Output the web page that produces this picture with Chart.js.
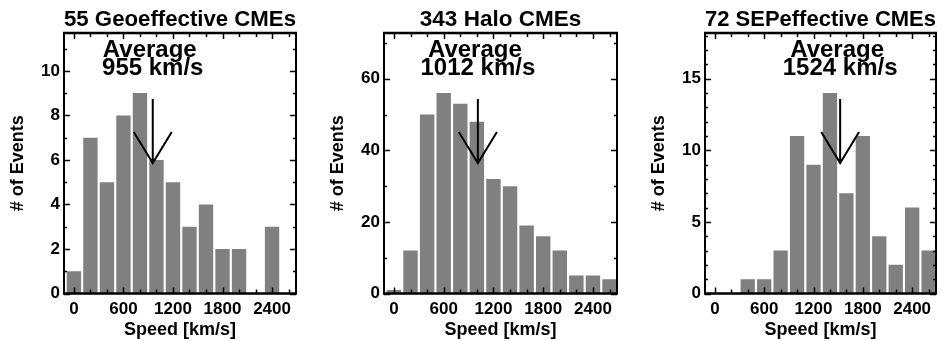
<!DOCTYPE html>
<html><head><meta charset="utf-8">
<script src="https://cdn.jsdelivr.net/npm/chart.js@4.4.1/dist/chart.umd.min.js"></script>
<style>
html,body{margin:0;padding:0;background:#fff;}
#wrap{position:relative;width:943px;height:341px;overflow:hidden;background:#fff;}
canvas{position:absolute;top:0;}
</style></head><body>
<div id="wrap">
<canvas id="c0" width="320" height="341" style="left:0px"></canvas>
<canvas id="c1" width="321" height="341" style="left:320px"></canvas>
<canvas id="c2" width="302" height="341" style="left:641px"></canvas>
</div>
<script>
// ---- data ----
const speedBins   = [0, 200, 400, 600, 800, 1000, 1200, 1400, 1600, 1800, 2000, 2200, 2400, 2600];
const geoCounts   = [1, 7, 5, 8, 9, 6, 5, 3, 4, 2, 2, 0, 3, 0];
const haloCounts  = [1, 12, 50, 56, 53, 48, 32, 30, 19, 16, 12, 5, 5, 4];
const sepCounts   = [0, 0, 1, 1, 3, 11, 9, 14, 7, 11, 4, 2, 6, 3];
const panelTitles = ['55 Geoeffective CMEs', '343 Halo CMEs', '72 SEPeffective CMEs'];
const averageSpeeds = [955, 1012, 1524];
const xTickLabels = [0, 600, 1200, 1800, 2400];
const yMaxes      = [11.7, 72.8, 18.2];
const yMajorSteps = [2, 20, 5];
const yMinorSteps = [1, 10, 1];
const xMinorStep  = 200;
const xMin = -120, xMax = 2690;
const countSeries = [geoCounts, haloCounts, sepCounts];

// ---- layout/style ----
const FONT = "'Liberation Sans', Arial, Helvetica, sans-serif";
const rightPads = [24, 24, 7];

function framePlugin(i) {
  return {
    id: 'frame' + i,
    afterDatasetsDraw(chart) {
      const ctx = chart.ctx;
      const xs = chart.scales.x, ys = chart.scales.y;
      const yMax = yMaxes[i];
      const avg = averageSpeeds[i];
      ctx.save();
      ctx.fillStyle = '#000';
      ctx.font = 'bold 24px ' + FONT;
      ctx.textAlign = 'center';
      ctx.textBaseline = 'alphabetic';
      const ax = xs.getPixelForValue(avg);
      ctx.fillText('Average', ax - 3, ys.getPixelForValue(0.909 * yMax));
      ctx.fillText(avg + ' km/s', ax, ys.getPixelForValue(0.839 * yMax));
      ctx.strokeStyle = '#000';
      ctx.lineWidth = 2;
      ctx.lineCap = 'butt';
      const yTop = ys.getPixelForValue(0.747 * yMax);
      const yTip = ys.getPixelForValue(0.501 * yMax);
      const yArm = ys.getPixelForValue(0.62 * yMax);
      const xl = xs.getPixelForValue(avg - 230), xr = xs.getPixelForValue(avg + 230);
      ctx.beginPath();
      ctx.moveTo(ax, yTop); ctx.lineTo(ax, yTip);
      ctx.moveTo(xl, yArm); ctx.lineTo(ax, yTip); ctx.lineTo(xr, yArm);
      ctx.stroke();
      ctx.restore();
    },
    afterDraw(chart) {
      const ctx = chart.ctx;
      const {left, right, top, bottom} = chart.chartArea;
      const xs = chart.scales.x, ys = chart.scales.y;
      ctx.save();
      ctx.strokeStyle = '#000';
      ctx.lineWidth = 1.5;
      ctx.beginPath();
      for (let v = 0; v <= xMax; v += xMinorStep) {
        const px = Math.round(xs.getPixelForValue(v)) + 0.5;
        const len = (v % 600 === 0) ? 6 : 4;
        ctx.moveTo(px, bottom); ctx.lineTo(px, bottom - len);
        ctx.moveTo(px, top); ctx.lineTo(px, top + len);
      }
      const nMinor = Math.floor(yMaxes[i] / yMinorSteps[i] + 1e-9);
      for (let k = 0; k <= nMinor; k++) {
        const v = k * yMinorSteps[i];
        const py = Math.round(ys.getPixelForValue(v)) + 0.5;
        const major = Math.abs(v / yMajorSteps[i] - Math.round(v / yMajorSteps[i])) < 1e-9;
        const len = major ? 6 : 3;
        ctx.moveTo(left, py); ctx.lineTo(left + len, py);
        ctx.moveTo(right, py); ctx.lineTo(right - len, py);
      }
      ctx.stroke();
      ctx.lineWidth = 2;
      ctx.beginPath();
      ctx.moveTo(left, top); ctx.lineTo(left, bottom);
      ctx.moveTo(right, top); ctx.lineTo(right, bottom);
      ctx.stroke();
      ctx.lineWidth = 2.5;
      ctx.beginPath();
      ctx.moveTo(left - 1, top); ctx.lineTo(right + 1, top);
      ctx.moveTo(left - 1, bottom); ctx.lineTo(right + 1, bottom);
      ctx.stroke();
      ctx.restore();
    }
  };
}

function makeChart(i) {
  const el = document.getElementById('c' + i);
  const pts = countSeries[i].map((c, k) => ({x: speedBins[k], y: c}));
  const yTicks = [];
  for (let v = 0; v <= yMaxes[i] + 1e-9; v += yMajorSteps[i]) yTicks.push(v);
  new Chart(el, {
    type: 'bar',
    data: {datasets: [{data: pts, backgroundColor: '#808080', borderWidth: 0,
      barPercentage: 0.87, categoryPercentage: 1.0}]},
    options: {
      responsive: false, animation: false, devicePixelRatio: 1,
      layout: {padding: {left: 0, right: rightPads[i], top: 0, bottom: 0}},
      plugins: {
        legend: {display: false}, tooltip: {enabled: false},
        title: {display: true, text: panelTitles[i], fullSize: false, color: '#000',
          font: {family: FONT, size: 22.5, weight: 'bold', lineHeight: 1.2},
          padding: {top: 6, bottom: 0}}
      },
      scales: {
        x: {
          type: 'linear', min: xMin, max: xMax, offset: false,
          grid: {display: false, drawTicks: false, tickLength: 0, offset: false}, border: {display: false},
          afterFit(s) { s.height = 47.5; },
          afterBuildTicks(s) { s.ticks = xTickLabels.map(v => ({value: v})); },
          ticks: {color: '#000', padding: 6, maxRotation: 0, autoSkip: false,
            font: {family: FONT, size: 17, weight: 'bold', lineHeight: 1.2},
            callback: v => String(v)},
          title: {display: true, text: 'Speed [km/s]', color: '#000',
            font: {family: FONT, size: 18, weight: 'bold', lineHeight: 1.2},
            padding: {top: 0, bottom: 0}}
        },
        y: {
          min: 0, max: yMaxes[i],
          grid: {display: false, drawTicks: false, tickLength: 0}, border: {display: false},
          afterFit(s) { s.width = 64; },
          afterBuildTicks(s) { s.ticks = yTicks.map(v => ({value: v})); },
          ticks: {color: '#000', padding: 4, autoSkip: false,
            font: {family: FONT, size: 17, weight: 'bold', lineHeight: 1.2},
            callback: v => String(v)},
          title: {display: true, text: '# of Events', color: '#000',
            font: {family: FONT, size: 18, weight: 'bold', lineHeight: 1.2},
            padding: {top: 7, bottom: 0}}
        }
      }
    },
    plugins: [framePlugin(i)]
  });
}
[0, 1, 2].forEach(makeChart);
</script>
</body></html>
